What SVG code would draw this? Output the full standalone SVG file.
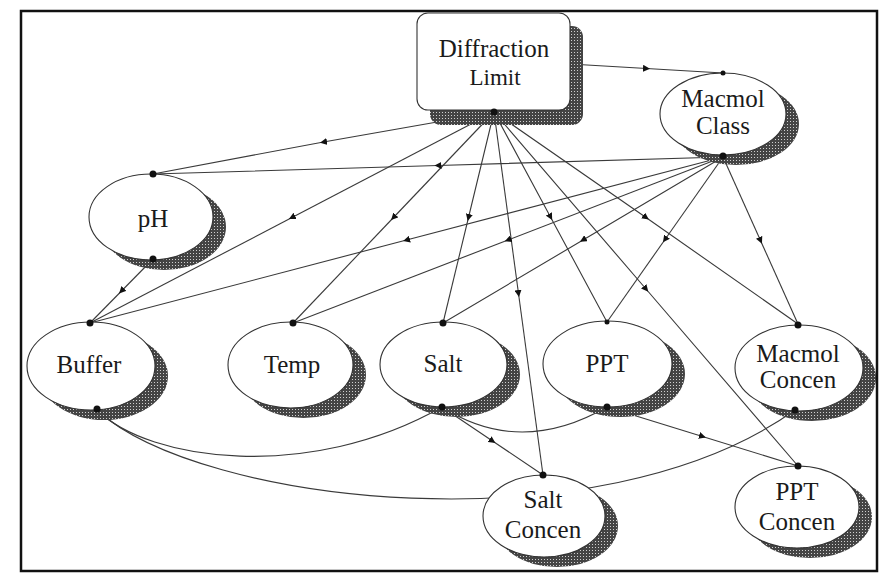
<svg xmlns="http://www.w3.org/2000/svg" width="882" height="576" viewBox="0 0 882 576">
<defs>
  <pattern id="stip" width="3" height="3" patternUnits="userSpaceOnUse">
    <rect width="3" height="3" fill="#444"/>
    <rect x="1" y="1" width="1" height="1" fill="#d0d0d0"/>
  </pattern>
  <marker id="mid" viewBox="0 0 8 8" refX="4" refY="4" markerWidth="7" markerHeight="7" markerUnits="userSpaceOnUse" orient="auto">
    <path d="M0,0 L8,4 L0,8 Z" fill="#111"/>
  </marker>
</defs>
<style>
  .edge { fill: none; stroke: #3a3a3a; stroke-width: 1.1; marker-mid: url(#mid); }
  .curve { fill: none; stroke: #3a3a3a; stroke-width: 1.1; }
  .node { fill: #fff; stroke: #333; stroke-width: 1.1; }
  .shadow { fill: url(#stip); }
  .lbl { font-family: "Liberation Serif", "Times New Roman", serif; font-size: 25px; fill: #1a1a1a; text-anchor: middle; }
  .dot { fill: #111; }
</style>
<rect x="0" y="0" width="882" height="576" fill="#fff"/>

<g id="connectors">
  <path class="edge" d="M570,64 L646.5,68.5 L723,73"/>
  <path class="edge" d="M494,112 L323.5,142 L153,174"/>
  <path class="edge" d="M494,112 L292,217.5 L90,323"/>
  <path class="edge" d="M494,112 L393.5,217.5 L293,323"/>
  <path class="edge" d="M494,112 L468.5,217.5 L443,323"/>
  <path class="edge" d="M494,112 L518.5,293.5 L543,475"/>
  <path class="edge" d="M494,112 L550.5,217 L607,322"/>
  <path class="edge" d="M494,112 L646,217.5 L798,324"/>
  <path class="edge" d="M494,112 L646,289 L798,466"/>
  <path class="edge" d="M723,157 L438,165.5 L153,174"/>
  <path class="edge" d="M723,157 L406.5,240 L90,323"/>
  <path class="edge" d="M723,157 L508,240 L293,323"/>
  <path class="edge" d="M723,157 L583,240 L443,323"/>
  <path class="edge" d="M723,157 L665,239.5 L607,322"/>
  <path class="edge" d="M723,157 L760.5,240.5 L798,324"/>
  <path class="edge" d="M153,259 L121.5,291 L90,323"/>
  <path class="edge" d="M442,407 L492.5,441 L543,475"/>
  <path class="edge" d="M607,407 L702.5,436.5 L798,466"/>
  <path class="curve" d="M97,410 C150,462 310,482 442,407"/>
  <path class="curve" d="M97,410 C200,505 600,550 795,410"/>
  <path class="curve" d="M442,407 Q520,457 607,407"/>
</g>

<g id="diffraction-limit">
  <rect class="shadow" x="430" y="26" width="153" height="99" rx="11"/>
  <rect class="node" x="417" y="13" width="153" height="97" rx="11"/>
  <text class="lbl" x="494" y="57">Diffraction</text>
  <text class="lbl" x="495" y="85" style="font-size:23px">Limit</text>
</g>

<g id="macmol-class">
  <ellipse class="shadow" cx="736" cy="124" rx="63" ry="41"/>
  <ellipse class="node" cx="723" cy="114" rx="63" ry="41"/>
  <text class="lbl" x="723" y="107">Macmol</text>
  <text class="lbl" x="723" y="134">Class</text>
</g>

<g id="ph">
  <ellipse class="shadow" cx="164" cy="227" rx="62" ry="43"/>
  <ellipse class="node" cx="151" cy="217" rx="62" ry="43"/>
  <text class="lbl" x="153" y="227">pH</text>
</g>

<g id="buffer">
  <ellipse class="shadow" cx="104" cy="376" rx="64" ry="44"/>
  <ellipse class="node" cx="91" cy="366" rx="64" ry="44"/>
  <text class="lbl" x="89" y="373">Buffer</text>
</g>

<g id="temp">
  <ellipse class="shadow" cx="303.5" cy="375" rx="62.5" ry="43"/>
  <ellipse class="node" cx="290.5" cy="365" rx="62.5" ry="43"/>
  <text class="lbl" x="292" y="373">Temp</text>
</g>

<g id="salt">
  <ellipse class="shadow" cx="456.5" cy="374.5" rx="63.5" ry="42.5"/>
  <ellipse class="node" cx="443.5" cy="364.5" rx="63.5" ry="42.5"/>
  <text class="lbl" x="443" y="372">Salt</text>
</g>

<g id="ppt">
  <ellipse class="shadow" cx="620.5" cy="374" rx="64.5" ry="43"/>
  <ellipse class="node" cx="607.5" cy="364" rx="64.5" ry="43"/>
  <text class="lbl" x="607" y="372">PPT</text>
</g>

<g id="macmol-concen">
  <ellipse class="shadow" cx="812" cy="378" rx="64" ry="43"/>
  <ellipse class="node" cx="799" cy="368" rx="64" ry="43"/>
  <text class="lbl" x="798" y="362">Macmol</text>
  <text class="lbl" x="798" y="388">Concen</text>
</g>

<g id="salt-concen">
  <ellipse class="shadow" cx="557" cy="526" rx="61" ry="41"/>
  <ellipse class="node" cx="544" cy="516" rx="61" ry="41"/>
  <text class="lbl" x="543" y="508">Salt</text>
  <text class="lbl" x="543" y="538">Concen</text>
</g>

<g id="ppt-concen">
  <ellipse class="shadow" cx="810" cy="517" rx="62" ry="41"/>
  <ellipse class="node" cx="797" cy="507" rx="62" ry="41"/>
  <text class="lbl" x="797" y="500">PPT</text>
  <text class="lbl" x="797" y="530">Concen</text>
</g>

<g id="anchors">
  <circle class="dot" cx="494" cy="112" r="3.5"/>
  <circle class="dot" cx="723" cy="73" r="2.5"/>
  <circle class="dot" cx="723" cy="156" r="3.5"/>
  <circle class="dot" cx="153" cy="174" r="3.5"/>
  <circle class="dot" cx="153" cy="259" r="3.5"/>
  <circle class="dot" cx="90" cy="323" r="3.5"/>
  <circle class="dot" cx="97" cy="409" r="3.5"/>
  <circle class="dot" cx="293" cy="323" r="3.5"/>
  <circle class="dot" cx="443" cy="323" r="3.5"/>
  <circle class="dot" cx="442" cy="407" r="3.5"/>
  <circle class="dot" cx="607" cy="322" r="2.5"/>
  <circle class="dot" cx="607" cy="407" r="3.5"/>
  <circle class="dot" cx="798" cy="325" r="3.5"/>
  <circle class="dot" cx="795" cy="410" r="3.5"/>
  <circle class="dot" cx="543" cy="475" r="3.5"/>
  <circle class="dot" cx="798" cy="466" r="3.5"/>
</g>

<rect x="21" y="11" width="856" height="560" fill="none" stroke="#111" stroke-width="2.5"/>
</svg>
